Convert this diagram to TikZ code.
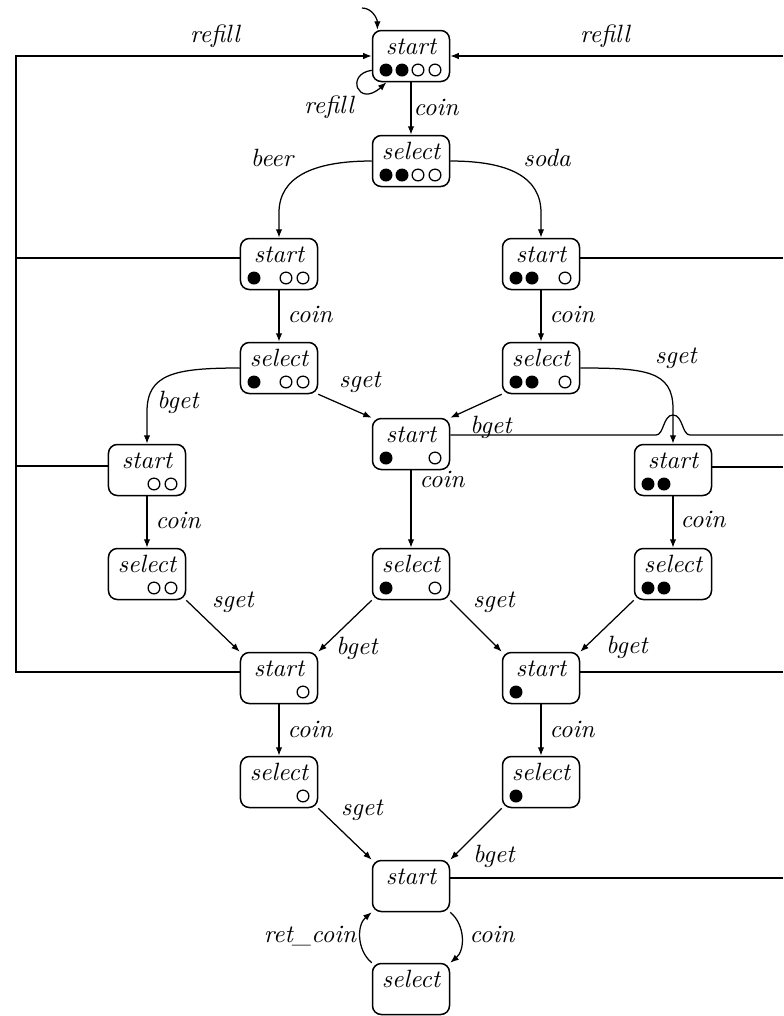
\documentclass[tikz,border=0pt]{standalone}
\usetikzlibrary{arrows.meta,calc}
\tikzset{
  st/.style={draw, line width=0.6pt, rounded corners=3.5pt, minimum width=30.8pt, minimum height=20.4pt, inner sep=0pt},
  nm/.style={anchor=base, inner sep=0pt, font=\itshape},
  lab/.style={anchor=base, inner sep=0pt, font=\itshape},
  tr/.style={line width=0.5pt, -{Latex[length=3.4pt,width=2.6pt]}},
  ln/.style={line width=0.5pt},
}
\newcommand\mkstate[3]{%
  \node[st] (#1) at (#2) {};
  \node[nm] (#1-t) at ($(#1.center)+(0,2)$) {#3};
}
\newcommand\tokens[2]{%
  \foreach \tk/\dx in {#2}{%
    \ifnum\tk=1 \fill ($(#1.center)+(\dx,-14)$) circle (2.6pt);%
    \else \draw[line width=0.5pt] ($(#1.center)+(\dx,-14)$) circle (2.35pt);\fi}%
}
\begin{document}
\begin{tikzpicture}[x=0.4pt,y=0.4pt]
\useasboundingbox (0,0) rectangle (783,-1016);
% states
\mkstate{s0}{411,-56}{start}
\mkstate{sel0}{411,-161}{select}
\mkstate{l1}{279,-264}{start}
\mkstate{r1}{541,-264}{start}
\mkstate{l1s}{279,-368}{select}
\mkstate{r1s}{541,-368}{select}
\mkstate{m}{411,-444}{start}
\mkstate{ll}{147,-470}{start}
\mkstate{rr}{673,-470}{start}
\mkstate{lls}{147,-574}{select}
\mkstate{ms}{411,-574}{select}
\mkstate{rrs}{673,-574}{select}
\mkstate{l2}{279,-678}{start}
\mkstate{r2}{541,-678}{start}
\mkstate{l2s}{279,-782}{select}
\mkstate{r2s}{541,-782}{select}
\mkstate{b}{411,-886}{start}
\mkstate{bs}{411,-989}{select}
% tokens
\tokens{s0}{1/-25,1/-9,0/7,0/24}
\tokens{sel0}{1/-25,1/-9,0/7,0/24}
\tokens{l1}{1/-25,0/7,0/24}
\tokens{l1s}{1/-25,0/7,0/24}
\tokens{r1}{1/-25,1/-9,0/24}
\tokens{r1s}{1/-25,1/-9,0/24}
\tokens{m}{1/-25,0/24}
\tokens{ms}{1/-25,0/24}
\tokens{ll}{0/7,0/24}
\tokens{lls}{0/7,0/24}
\tokens{rr}{1/-25,1/-9}
\tokens{rrs}{1/-25,1/-9}
\tokens{l2}{0/24}
\tokens{l2s}{0/24}
\tokens{r2}{1/-25}
\tokens{r2s}{1/-25}
% initial arrow and self loop
\coordinate (init) at (362,-8);
\draw[tr] (init) to[out=0,in=90] (s0.142);
\draw[tr] (s0.200) .. controls (345,-74) and (358,-108) .. (s0.227);
% transitions
\draw[tr] (s0) -- (sel0);
\coordinate (l1n) at ($(l1.north)+(0,25)$);
\draw[tr] (sel0.west) .. controls +(-60,0) and +(0,35) .. (l1n) -- (l1.north);
\coordinate (r1n) at ($(r1.north)+(0,25)$);
\draw[tr] (sel0.east) .. controls +(60,0) and +(0,35) .. (r1n) -- (r1.north);
\draw[tr] (l1) -- (l1s);
\draw[tr] (r1) -- (r1s);
\coordinate (lln) at ($(ll.north)+(0,32)$);
\draw[tr] (l1s.west) .. controls +(-65,0) and +(0,38) .. (lln) -- (ll.north);
\draw[tr] (l1s.south east) -- (m.north west);
\draw[tr] (r1s.south west) -- (m.north east);
\coordinate (rrn) at ($(rr.north)+(0,35)$);
\draw[tr] (r1s.east) .. controls +(65,0) and +(0,38) .. (rrn) -- (rr.north);
\draw[tr] (ll) -- (lls);
\draw[tr] (m) -- (ms);
\draw[tr] (rr) -- (rrs);
\draw[tr] (lls.south east) -- (l2.north west);
\draw[tr] (ms.south west) -- (l2.north east);
\draw[tr] (ms.south east) -- (r2.north west);
\draw[tr] (rrs.south west) -- (r2.north east);
\draw[tr] (l2) -- (l2s);
\draw[tr] (r2) -- (r2s);
\draw[tr] (l2s.south east) -- (b.north west);
\draw[tr] (r2s.south west) -- (b.north east);
\draw[tr] (b.south east) to[out=-40,in=40] (bs.north east);
\draw[tr] (bs.north west) to[out=140,in=-140] (b.south west);
% refill lines, left
\coordinate (lt) at (16,-56);
\coordinate (l2w) at ($(l2.west)+(0,6)$);
\draw[tr] (l2w) -| (lt) -- (s0.west);
\coordinate (l1w) at ($(l1.west)+(0,6)$);
\draw[ln] (l1w) -- (l1w -| lt);
\coordinate (llw) at ($(ll.west)+(0,4)$);
\draw[ln] (llw) -- (llw -| lt);
% refill lines, right
\coordinate (rt) at (783,-56);
\draw[tr] (rt) -- (s0.east);
\coordinate (r1e) at ($(r1.east)+(0,6)$);
\draw[ln] (r1e) -- (r1e -| rt);
\coordinate (rre) at ($(rr.east)+(0,3)$);
\draw[ln] (rre) -- (rre -| rt);
\coordinate (r2e) at ($(r2.east)+(0,6)$);
\draw[ln] (r2e) -- (r2e -| rt);
\coordinate (be) at ($(b.east)+(0,8)$);
\draw[ln] (be) -- (be -| rt);
\coordinate (me) at ($(m.east)+(0,9)$);
\coordinate (hop) at (me -| rr);
\draw[ln] (me) -- ($(hop)+(-17,0)$) .. controls ($(hop)+(-9,0)$) and ($(hop)+(-10,20)$) .. ($(hop)+(0,20)$)
  .. controls ($(hop)+(10,20)$) and ($(hop)+(9,0)$) .. ($(hop)+(17,0)$) -- (hop -| rt);
% labels
\node[lab] (lrefl) at (215,-42) {refill};
\node[lab] (lrefr) at (605,-42) {refill};
\node[lab] (lrefs) at (329,-113) {refill};
\node[lab] (lc0) at (436,-115) {coin};
\node[lab] (lbeer) at (272,-166) {beer};
\node[lab] (lsoda) at (547,-166) {soda};
\node[lab] (lc1l) at (310,-322) {coin};
\node[lab] (lc1r) at (572,-322) {coin};
\node[lab] (lbg1) at (178,-408) {bget};
\node[lab] (lsg1) at (360,-387) {sget};
\node[lab] (lbg2) at (491,-433) {bget};
\node[lab] (lsg2) at (676,-363) {sget};
\node[lab] (lcll) at (178,-528) {coin};
\node[lab] (lcm) at (442,-487) {coin};
\node[lab] (lcrr) at (703,-527) {coin};
\node[lab] (lsg3) at (233,-607) {sget};
\node[lab] (lbg3) at (357,-654) {bget};
\node[lab] (lsg4) at (494,-607) {sget};
\node[lab] (lbg4) at (627,-653) {bget};
\node[lab] (lcl2) at (310,-737) {coin};
\node[lab] (lcr2) at (572,-737) {coin};
\node[lab] (lsg5) at (362,-815) {sget};
\node[lab] (lbg5) at (494,-862) {bget};
\node[lab] (lcb) at (492,-942) {coin};
\node[lab] (lret) at (310,-942) {ret\_coin};
\end{tikzpicture}
\end{document}
